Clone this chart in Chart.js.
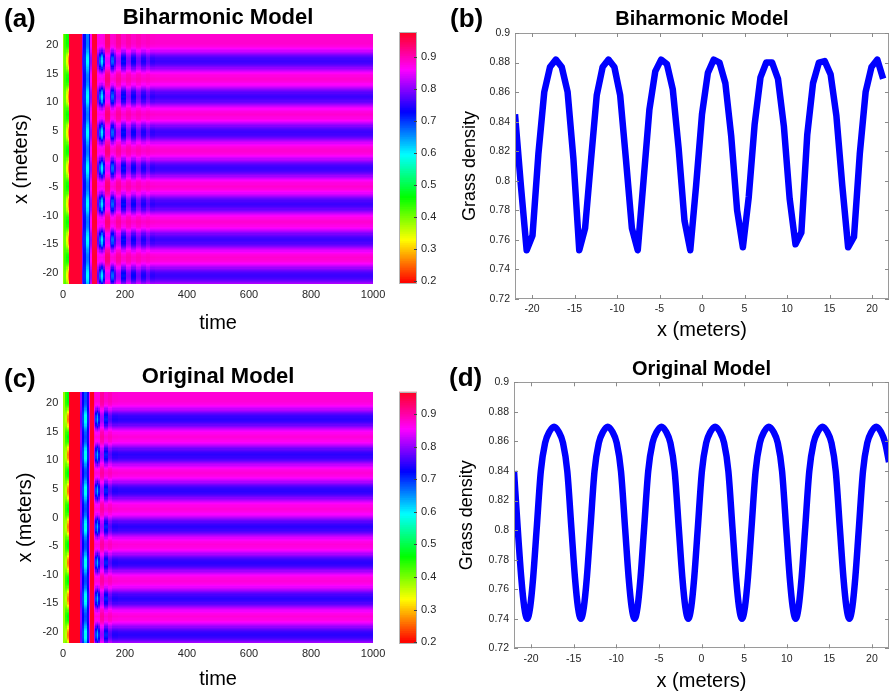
<!DOCTYPE html>
<html>
<head>
<meta charset="utf-8">
<script src="https://cdn.jsdelivr.net/npm/chart.js@4.4.1/dist/chart.umd.min.js"></script>
<style>
  html, body { margin: 0; padding: 0; background: #fff; }
  body { width: 890px; height: 694px; position: relative; overflow: hidden; font-family: 'Liberation Sans', Arial, Helvetica, sans-serif; }
  canvas { position: absolute; display: block; }
  .lbl { position: absolute; font-weight: bold; font-size: 26px; line-height: 26px; color: #000; }
</style>
</head>
<body>
<canvas id="ha" width="390" height="340" style="left:0;top:0"></canvas>
<canvas id="cba" width="55" height="340" style="left:390px;top:0"></canvas>
<canvas id="lb" width="445" height="350" style="left:445px;top:0"></canvas>
<canvas id="hc" width="390" height="354" style="left:0;top:340px"></canvas>
<canvas id="cbc" width="55" height="354" style="left:390px;top:340px"></canvas>
<canvas id="ld" width="445" height="354" style="left:445px;top:340px"></canvas>
<div class="lbl" style="left:4px;top:5px">(a)</div>
<div class="lbl" style="left:450px;top:5px">(b)</div>
<div class="lbl" style="left:4px;top:365px">(c)</div>
<div class="lbl" style="left:449px;top:364px">(d)</div>
<script>
// ---------------- DATA ----------------
const titleTop = 'Biharmonic Model';
const titleBottom = 'Original Model';

// tick labels
const timeTicks = [0, 200, 400, 600, 800, 1000];
const posTicks = [-20, -15, -10, -5, 0, 5, 10, 15, 20];
const densityTicks = [0.72, 0.74, 0.76, 0.78, 0.8, 0.82, 0.84, 0.86, 0.88, 0.9];
const colorbarTicks = [0.2, 0.3, 0.4, 0.5, 0.6, 0.7, 0.8, 0.9];

// (b) Biharmonic model: final grass density profile
const bX = [-22, -21.31, -20.63, -19.94, -19.25, -18.56, -17.88, -17.19, -16.5, -15.81, -15.13, -14.44,
  -13.75, -13.06, -12.38, -11.69, -11, -10.31, -9.63, -8.94, -8.25, -7.56, -6.88, -6.19, -5.5, -4.81,
  -4.13, -3.44, -2.75, -2.06, -1.38, -0.69, 0, 0.69, 1.38, 2.06, 2.75, 3.44, 4.13, 4.81, 5.5, 6.19,
  6.88, 7.56, 8.25, 8.94, 9.63, 10.31, 11, 11.69, 12.38, 13.06, 13.75, 14.44, 15.13, 15.81, 16.5,
  17.19, 17.88, 18.56, 19.25, 19.94, 20.63, 21.31];
const bY = [0.845, 0.797, 0.753, 0.763, 0.818, 0.860, 0.877, 0.882, 0.877, 0.860, 0.815, 0.753,
  0.768, 0.814, 0.858, 0.877, 0.882, 0.877, 0.858, 0.814, 0.768, 0.753, 0.800, 0.848, 0.874, 0.882,
  0.879, 0.862, 0.822, 0.773, 0.753, 0.797, 0.845, 0.873, 0.882, 0.880, 0.866, 0.830, 0.780, 0.755,
  0.789, 0.838, 0.870, 0.880, 0.880, 0.869, 0.837, 0.788, 0.757, 0.765, 0.831, 0.866, 0.880, 0.881,
  0.872, 0.844, 0.797, 0.755, 0.762, 0.818, 0.860, 0.877, 0.882, 0.869];

// (d) Original model: final grass density profile
const dX = [-22, -21.55, -21.15, -20.8, -20.45, -20.1, -19.75, -19.35, -18.85, -18.35, -17.85, -17.3,
  -16.75, -16.25, -15.75, -15.25, -14.85, -14.5, -14.15, -13.8, -13.45, -13.05, -12.55, -12.05, -11.55, -11.0,
  -10.45, -9.95, -9.45, -8.95, -8.55, -8.2, -7.85, -7.5, -7.15, -6.75, -6.25, -5.75, -5.25, -4.7,
  -4.15, -3.65, -3.15, -2.65, -2.25, -1.9, -1.55, -1.2, -0.85, -0.45, 0.05, 0.55, 1.05, 1.6,
  2.15, 2.65, 3.15, 3.65, 4.05, 4.4, 4.75, 5.1, 5.45, 5.85, 6.35, 6.85, 7.35, 7.9,
  8.45, 8.95, 9.45, 9.95, 10.35, 10.7, 11.05, 11.4, 11.75, 12.15, 12.65, 13.15, 13.65, 14.2,
  14.75, 15.25, 15.75, 16.25, 16.65, 17.0, 17.35, 17.7, 18.05, 18.45, 18.95, 19.45, 19.95, 20.5,
  21.05, 21.55, 22.0];
const dY = [0.840, 0.800, 0.768, 0.748, 0.740, 0.748, 0.768, 0.800, 0.840, 0.859, 0.8665, 0.870,
  0.8665, 0.859, 0.840, 0.800, 0.768, 0.748, 0.740, 0.748, 0.768, 0.800, 0.840, 0.859, 0.8665, 0.870,
  0.8665, 0.859, 0.840, 0.800, 0.768, 0.748, 0.740, 0.748, 0.768, 0.800, 0.840, 0.859, 0.8665, 0.870,
  0.8665, 0.859, 0.840, 0.800, 0.768, 0.748, 0.740, 0.748, 0.768, 0.800, 0.840, 0.859, 0.8665, 0.870,
  0.8665, 0.859, 0.840, 0.800, 0.768, 0.748, 0.740, 0.748, 0.768, 0.800, 0.840, 0.859, 0.8665, 0.870,
  0.8665, 0.859, 0.840, 0.800, 0.768, 0.748, 0.740, 0.748, 0.768, 0.800, 0.840, 0.859, 0.8665, 0.870,
  0.8665, 0.859, 0.840, 0.800, 0.768, 0.748, 0.740, 0.748, 0.768, 0.800, 0.840, 0.859, 0.8665, 0.870,
  0.8665, 0.859, 0.846];

// heatmaps: band centres (x, metres) and band cross-section weight vs distance from centre
const heatBandCenters = [-20.45, -14.15, -7.85, -1.55, 4.75, 11.05, 17.35];
const heatBandDist = [0, 0.5, 1.0, 1.5, 2.0, 2.5, 3.15];
const heatBandWeight = [1, 0.93, 0.76, 0.5, 0.26, 0.08, 0];

// (a) heatmap: time columns, value between bands (peak rows) and at band centres
const aTimeEdges = [0, 6, 12, 17, 21, 62, 67, 75, 84, 90, 95, 112, 117, 123, 130, 136, 152, 158, 167, 174, 190, 206, 222, 238, 252, 268, 282, 298, 1000];
const aPeakVals = [0.38, 0.43, 0.45, 0.45, 0.965, 0.80, 0.72, 0.66, 0.72, 0.86, 0.965, 0.87, 0.87, 0.87, 0.875, 0.93, 0.885, 0.88, 0.885, 0.91, 0.885, 0.90, 0.885, 0.895, 0.885, 0.89, 0.884, 0.882];
const aBandVals = [0.38, 0.40, 0.33, 0.26, 0.965, 0.77, 0.70, 0.59, 0.70, 0.80, 0.95, 0.77, 0.67, 0.60, 0.70, 0.84, 0.75, 0.67, 0.75, 0.81, 0.715, 0.79, 0.725, 0.78, 0.735, 0.77, 0.745, 0.753];
const aColorLimits = [0.19, 0.978];

// (c) heatmap
const cTimeEdges = [0, 8, 14, 20, 58, 63, 70, 78, 84, 88, 102, 106, 110, 116, 120, 134, 148, 160, 180, 1000];
const cPeakVals = [0.38, 0.44, 0.46, 0.965, 0.80, 0.72, 0.68, 0.73, 0.86, 0.965, 0.88, 0.87, 0.87, 0.87, 0.90, 0.875, 0.885, 0.872, 0.870];
const cBandVals = [0.38, 0.36, 0.26, 0.965, 0.77, 0.68, 0.58, 0.70, 0.82, 0.95, 0.80, 0.68, 0.62, 0.70, 0.80, 0.70, 0.76, 0.735, 0.740];
const cColorLimits = [0.197, 0.968];

// ---------------- HELPERS ----------------
const F = "'Liberation Sans', Arial, Helvetica, sans-serif";
const TICK = '#262626';

function hsvColor(v, lo, hi) {
  let t = (v - lo) / (hi - lo);
  t = Math.max(0, Math.min(1, t));
  const h = t * (63 / 64) * 6;
  const i = Math.floor(h) % 6, f = h - Math.floor(h);
  let r, g, b;
  switch (i) {
    case 0: r = 1; g = f; b = 0; break;
    case 1: r = 1 - f; g = 1; b = 0; break;
    case 2: r = 0; g = 1; b = f; break;
    case 3: r = 0; g = 1 - f; b = 1; break;
    case 4: r = f; g = 0; b = 1; break;
    default: r = 1; g = 0; b = 1 - f;
  }
  return 'rgb(' + Math.round(r * 255) + ',' + Math.round(g * 255) + ',' + Math.round(b * 255) + ')';
}

function interp(xs, ys, x) {
  const n = xs.length;
  if (x <= xs[0]) return ys[0];
  if (x >= xs[n - 1]) return ys[n - 1];
  for (let i = 1; i < n; i++) {
    if (x <= xs[i]) {
      const f = (x - xs[i - 1]) / (xs[i] - xs[i - 1]);
      return ys[i - 1] + f * (ys[i] - ys[i - 1]);
    }
  }
  return ys[n - 1];
}

function bandWeight(x) {
  let d = Infinity;
  heatBandCenters.forEach(c => { d = Math.min(d, Math.abs(x - c)); });
  return interp(heatBandDist, heatBandWeight, d);
}

function heatPlugin(o) {
  return {
    id: 'heat',
    beforeDatasetsDraw(chart) {
      const { ctx, chartArea: a, scales: { x, y } } = chart;
      ctx.save();
      ctx.beginPath();
      ctx.rect(a.left, a.top, a.right - a.left, a.bottom - a.top);
      ctx.clip();
      const step = 0.2;
      const rows = [];
      for (let yv = y.min; yv < y.max - 1e-9; yv += step) {
        rows.push({ y0: yv, y1: yv + step, w: bandWeight(yv + step / 2) });
      }
      for (let j = 0; j < o.peak.length; j++) {
        const x0 = Math.floor(x.getPixelForValue(o.edges[j]));
        const x1 = Math.ceil(x.getPixelForValue(o.edges[j + 1]));
        rows.forEach(r => {
          const v = o.peak[j] + (o.band[j] - o.peak[j]) * r.w;
          ctx.fillStyle = hsvColor(v, o.lim[0], o.lim[1]);
          const py0 = Math.floor(y.getPixelForValue(r.y1));
          const py1 = Math.ceil(y.getPixelForValue(r.y0));
          ctx.fillRect(x0, py0, Math.max(1, x1 - x0), py1 - py0);
        });
      }
      ctx.restore();
    }
  };
}

const framePlugin = {
  id: 'frame',
  afterDatasetsDraw(chart, args, o) {
    if (!o || !o.color) return;
    const { ctx, chartArea: a } = chart;
    ctx.save();
    ctx.strokeStyle = o.color;
    ctx.lineWidth = 1;
    ctx.strokeRect(Math.round(a.left) + 0.5, Math.round(a.top) + 0.5, Math.round(a.right - a.left) - 1, Math.round(a.bottom - a.top) - 1);
    const L = o.tickLen || 0;
    if (L) {
      ctx.strokeStyle = o.tickColor || o.color;
      ctx.beginPath();
      if (o.xTicks) {
        chart.scales.x.ticks.forEach(t => {
          const px = Math.round(chart.scales.x.getPixelForValue(t.value)) + 0.5;
          ctx.moveTo(px, a.bottom); ctx.lineTo(px, a.bottom - L);
          ctx.moveTo(px, a.top); ctx.lineTo(px, a.top + L);
        });
      }
      if (o.yTicks) {
        chart.scales.y.ticks.forEach(t => {
          const py = Math.round(chart.scales.y.getPixelForValue(t.value)) + 0.5;
          if (o.yTicks !== 'right') { ctx.moveTo(a.left, py); ctx.lineTo(a.left + L, py); }
          ctx.moveTo(a.right, py); ctx.lineTo(a.right - L, py);
        });
      }
      ctx.stroke();
    }
    ctx.restore();
  }
};

function makeHeat(id, o) {
  return new Chart(document.getElementById(id), {
    type: 'scatter',
    data: { datasets: [{ data: [], pointRadius: 0 }] },
    options: {
      responsive: false, animation: false, events: [],
      layout: { padding: { left: 0, right: 12, top: 0, bottom: 0 } },
      plugins: {
        legend: { display: false }, tooltip: { enabled: false },
        title: { display: true, text: o.title, fullSize: false, color: '#000',
          font: { family: F, size: 22, weight: 'bold' }, padding: { top: o.titleTop, bottom: o.titleBottom } }
      },
      scales: {
        x: {
          type: 'linear', min: 0, max: 1000,
          afterBuildTicks: s => { s.ticks = timeTicks.map(v => ({ value: v })); },
          afterFit: s => { s.height = o.xAxisH; },
          grid: { display: false, drawTicks: false }, border: { display: false },
          ticks: { padding: 4.7, color: TICK, font: { family: F, size: 11 }, maxRotation: 0, autoSkip: false, callback: v => String(v) },
          title: { display: true, text: 'time', color: '#000', font: { family: F, size: 20 }, padding: { top: 0, bottom: o.xTitlePad } }
        },
        y: {
          type: 'linear', min: -22, max: 22,
          afterBuildTicks: s => { s.ticks = posTicks.map(v => ({ value: v })); },
          afterFit: s => { s.width = 63; },
          grid: { display: false, drawTicks: false }, border: { display: false },
          ticks: { padding: 4.7, color: TICK, font: { family: F, size: 11 }, autoSkip: false, callback: v => String(v) },
          title: { display: true, text: 'x (meters)', color: '#000', font: { family: F, size: 20 }, padding: { top: o.yTitlePad, bottom: 0 } }
        }
      }
    },
    plugins: [heatPlugin(o)]
  });
}

function makeColorbar(id, lim, padTop, padBottom) {
  const n = 140, step = (lim[1] - lim[0]) / n;
  const datasets = [];
  for (let i = 0; i < n; i++) {
    const v0 = lim[0] + i * step;
    datasets.push({
      data: [[v0, Math.min(lim[1], v0 + step * 1.6)]],
      backgroundColor: hsvColor(v0 + step / 2, lim[0], lim[1]),
      borderWidth: 0, grouped: false, barPercentage: 1, categoryPercentage: 1
    });
  }
  return new Chart(document.getElementById(id), {
    type: 'bar',
    data: { labels: [''], datasets },
    options: {
      responsive: false, animation: false, events: [],
      layout: { padding: { left: 9, right: 0, top: padTop, bottom: padBottom } },
      plugins: { legend: { display: false }, tooltip: { enabled: false },
        frame: { color: '#b4b4b4', tickLen: 3, tickColor: '#404040', yTicks: 'right' } },
      scales: {
        x: { display: false },
        y: {
          position: 'right', min: lim[0], max: lim[1],
          afterBuildTicks: s => { s.ticks = colorbarTicks.map(v => ({ value: v })); },
          afterFit: s => { s.width = 28; },
          grid: { display: false, drawTicks: false }, border: { display: false },
          ticks: { padding: 4, color: TICK, font: { family: F, size: 11 }, autoSkip: false, callback: v => String(+v.toFixed(1)) }
        }
      }
    },
    plugins: [framePlugin]
  });
}

function makeLine(id, o) {
  return new Chart(document.getElementById(id), {
    type: 'scatter',
    data: { datasets: [{
      data: o.xs.map((x, i) => ({ x: x, y: o.ys[i] })),
      showLine: true, borderColor: '#0000ff', backgroundColor: '#0000ff', borderWidth: 6.5,
      pointRadius: 0, tension: 0, cubicInterpolationMode: o.mono ? 'monotone' : 'default',
      borderJoinStyle: 'round', fill: false
    }] },
    options: {
      responsive: false, animation: false, events: [],
      layout: { padding: { left: 0, right: 1, top: 0, bottom: 0 } },
      plugins: {
        legend: { display: false }, tooltip: { enabled: false },
        title: { display: true, text: o.title, fullSize: false, color: '#000',
          font: { family: F, size: 20, weight: 'bold' }, padding: { top: o.titleTop, bottom: o.titleBottom } },
        frame: { color: '#9a9a9a', tickLen: 4, tickColor: '#8a8a8a', xTicks: true, yTicks: true }
      },
      scales: {
        x: {
          type: 'linear', min: -22, max: 22,
          afterBuildTicks: s => { s.ticks = posTicks.map(v => ({ value: v })); },
          afterFit: s => { s.height = o.xAxisH; },
          grid: { display: false, drawTicks: false }, border: { display: false },
          ticks: { padding: o.xTickPad, color: TICK, font: { family: F, size: 10.5 }, maxRotation: 0, autoSkip: false, callback: v => String(v) },
          title: { display: true, text: 'x (meters)', color: '#000', font: { family: F, size: 20 }, padding: { top: 0, bottom: o.xTitlePad } }
        },
        y: {
          type: 'linear', min: 0.72, max: 0.9,
          afterBuildTicks: s => { s.ticks = densityTicks.map(v => ({ value: v })); },
          afterFit: s => { s.width = o.yAxisW; },
          grid: { display: false, drawTicks: false }, border: { display: false },
          ticks: { padding: 5, color: TICK, font: { family: F, size: 10.5 }, autoSkip: false, callback: v => String(+v.toFixed(2)) },
          title: { display: true, text: 'Grass density', color: '#000', font: { family: F, size: 18 }, padding: { top: o.yTitlePad, bottom: 0 } }
        }
      }
    },
    plugins: [framePlugin]
  });
}

// ---------------- CHARTS ----------------
makeHeat('ha', { title: titleTop, titleTop: 4.8, titleBottom: 2.8, xAxisH: 56, xTitlePad: 4.5, yTitlePad: 9,
  edges: aTimeEdges, peak: aPeakVals, band: aBandVals, lim: aColorLimits });
makeColorbar('cba', aColorLimits, 32.3, 56);
makeLine('lb', { title: titleTop, xs: bX, ys: bY, mono: false, titleTop: 7.5, titleBottom: 1.5,
  xAxisH: 51, xTickPad: 4, xTitlePad: 8, yAxisW: 70, yTitlePad: 14.2 });

makeHeat('hc', { title: titleBottom, titleTop: 23.8, titleBottom: 1.8, xAxisH: 51, xTitlePad: 2.5, yTitlePad: 13,
  edges: cTimeEdges, peak: cPeakVals, band: cBandVals, lim: cColorLimits });
makeColorbar('cbc', cColorLimits, 51.7, 50.7);
makeLine('ld', { title: titleBottom, xs: dX, ys: dY, mono: true, titleTop: 17.5, titleBottom: 0.8,
  xAxisH: 45.7, xTickPad: 4.4, xTitlePad: 0.5, yAxisW: 69, yTitlePad: 11.7 });
</script>
</body>
</html>
